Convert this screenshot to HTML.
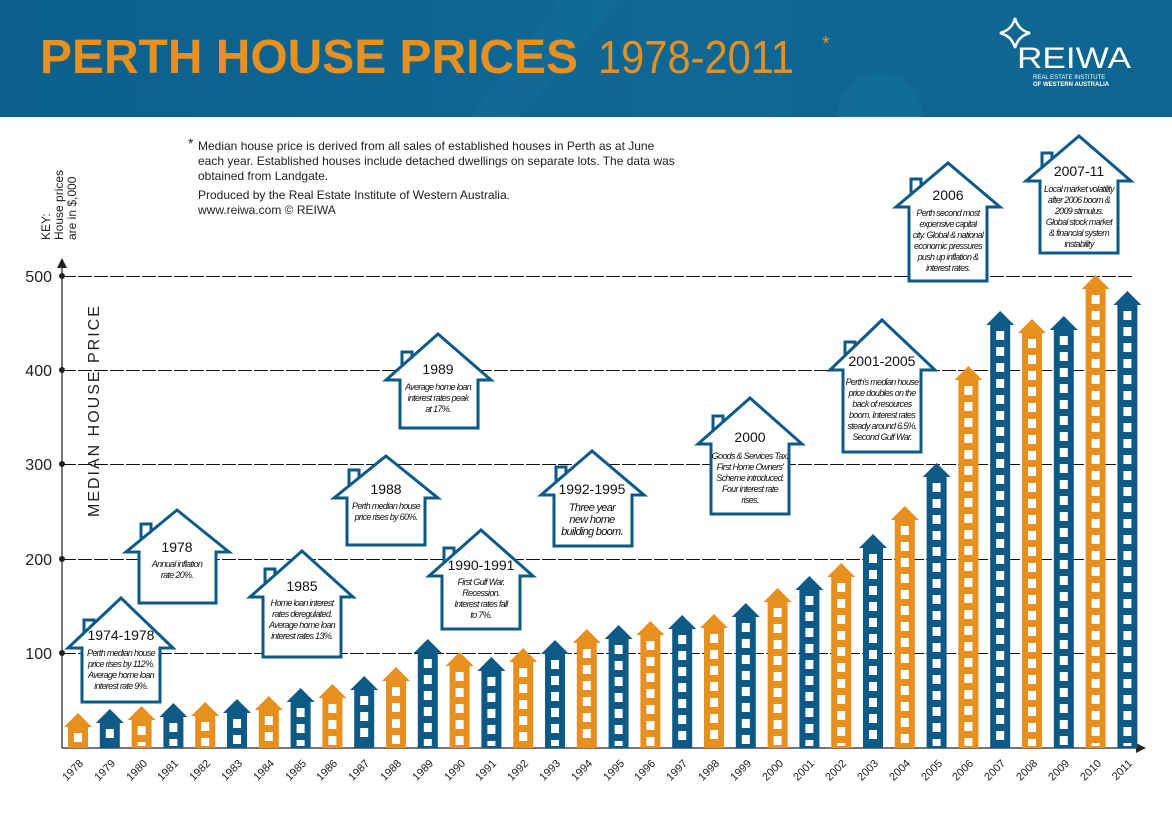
<!DOCTYPE html>
<html><head><meta charset="utf-8"><style>
html,body{margin:0;padding:0;background:#fff}
svg{display:block}
text{font-family:"Liberation Sans",sans-serif}
.d{font-size:9px;font-style:italic;letter-spacing:-0.7px;fill:#111}
.t{font-size:14px;fill:#111}
.yl{font-size:11px;fill:#222}
</style></head><body>
<svg id="s" width="1172" height="825" viewBox="0 0 1172 825" xmlns="http://www.w3.org/2000/svg">
<defs>
<linearGradient id="hg" x1="0" y1="0" x2="1" y2="0">
<stop offset="0" stop-color="#0c5f8c"/><stop offset="0.6" stop-color="#0f6894"/><stop offset="1" stop-color="#0d6591"/>
</linearGradient>
<clipPath id="hc"><rect x="0" y="0" width="1172" height="117"/></clipPath>
</defs>
<rect x="0" y="0" width="1172" height="117" fill="url(#hg)"/>
<g clip-path="url(#hc)">
<circle cx="880" cy="115" r="42" fill="#1a7aa3" opacity="0.25"/>
<polygon points="560,0 620,0 520,117 470,117" fill="#1877a0" opacity="0.25"/>
</g>
<text x="40" y="73" font-size="48" font-weight="bold" fill="#e8901f" textLength="538" lengthAdjust="spacingAndGlyphs">PERTH HOUSE PRICES</text>
<text x="598" y="73" font-size="46" fill="#e8901f" textLength="196" lengthAdjust="spacingAndGlyphs">1978-2011</text>
<text x="822" y="50" font-size="20" fill="#e8901f">*</text>
<path d="M1015,18 Q1018,30 1030,33 Q1018,36 1015,48 Q1012,36 1000,33 Q1012,30 1015,18Z" fill="none" stroke="#fff" stroke-width="2.5"/>
<text x="1017" y="68" font-size="30" fill="#fff" textLength="114" lengthAdjust="spacingAndGlyphs">REIWA</text>
<text x="1033" y="79" font-size="6" fill="#fff">REAL ESTATE INSTITUTE</text>
<text x="1033" y="86" font-size="6" font-weight="bold" fill="#fff">OF WESTERN AUSTRALIA</text>

<g font-size="12" fill="#222">
<text x="188" y="148" font-size="14">*</text>
<text x="198" y="150">Median house price is derived from all sales of established houses in Perth as at June</text>
<text x="198" y="165">each year. Established houses include detached dwellings on separate lots. The data was</text>
<text x="198" y="180">obtained from Landgate.</text>
<text x="198" y="199">Produced by the Real Estate Institute of Western Australia.</text>
<text x="198" y="214">www.reiwa.com     © REIWA</text>
</g>
<g font-size="12" fill="#222">
<text transform="translate(50,240) rotate(-90)">KEY:</text>
<text transform="translate(63,240) rotate(-90)">House prices</text>
<text transform="translate(76,240) rotate(-90)">are in $,000</text>
</g>
<text transform="translate(99,517) rotate(-90)" font-size="16" letter-spacing="2" fill="#222">MEDIAN HOUSE PRICE</text>

<g id="grid" stroke="#111" stroke-width="1" stroke-dasharray="14,2">
<line x1="62" y1="276.5" x2="1132" y2="276.5"/>
<line x1="62" y1="370.5" x2="1132" y2="370.5"/>
<line x1="62" y1="464.5" x2="1132" y2="464.5"/>
<line x1="62" y1="559.5" x2="1132" y2="559.5"/>
<line x1="62" y1="653.5" x2="1132" y2="653.5"/>
</g>
<line x1="62" y1="266" x2="62" y2="748" stroke="#222" stroke-width="1.2"/>
<polygon points="57,268 62,258 67,268" fill="#222"/>
<line x1="62" y1="748" x2="1138" y2="748" stroke="#222" stroke-width="1.2"/>
<polygon points="1136,743 1146,748 1136,753" fill="#222"/>
<g fill="#222"><circle cx="62" cy="276" r="3"/><circle cx="62" cy="370" r="3"/><circle cx="62" cy="464" r="3"/><circle cx="62" cy="559" r="3"/><circle cx="62" cy="653" r="3"/></g>
<g font-size="16" fill="#222" text-anchor="end">
<text x="52" y="282">500</text><text x="52" y="376">400</text><text x="52" y="470">300</text><text x="52" y="565">200</text><text x="52" y="659">100</text>
</g>
<g id="bars"></g>
<g id="houses"></g>

<g class="yl" text-anchor="end">
<text transform="translate(84,764) rotate(-45)">1978</text>
<text transform="translate(116,764) rotate(-45)">1979</text>
<text transform="translate(148,764) rotate(-45)">1980</text>
<text transform="translate(179,764) rotate(-45)">1981</text>
<text transform="translate(211,764) rotate(-45)">1982</text>
<text transform="translate(243,764) rotate(-45)">1983</text>
<text transform="translate(275,764) rotate(-45)">1984</text>
<text transform="translate(307,764) rotate(-45)">1985</text>
<text transform="translate(338,764) rotate(-45)">1986</text>
<text transform="translate(370,764) rotate(-45)">1987</text>
<text transform="translate(402,764) rotate(-45)">1988</text>
<text transform="translate(434,764) rotate(-45)">1989</text>
<text transform="translate(466,764) rotate(-45)">1990</text>
<text transform="translate(497,764) rotate(-45)">1991</text>
<text transform="translate(529,764) rotate(-45)">1992</text>
<text transform="translate(561,764) rotate(-45)">1993</text>
<text transform="translate(593,764) rotate(-45)">1994</text>
<text transform="translate(625,764) rotate(-45)">1995</text>
<text transform="translate(656,764) rotate(-45)">1996</text>
<text transform="translate(688,764) rotate(-45)">1997</text>
<text transform="translate(720,764) rotate(-45)">1998</text>
<text transform="translate(752,764) rotate(-45)">1999</text>
<text transform="translate(784,764) rotate(-45)">2000</text>
<text transform="translate(815,764) rotate(-45)">2001</text>
<text transform="translate(847,764) rotate(-45)">2002</text>
<text transform="translate(879,764) rotate(-45)">2003</text>
<text transform="translate(911,764) rotate(-45)">2004</text>
<text transform="translate(943,764) rotate(-45)">2005</text>
<text transform="translate(974,764) rotate(-45)">2006</text>
<text transform="translate(1006,764) rotate(-45)">2007</text>
<text transform="translate(1038,764) rotate(-45)">2008</text>
<text transform="translate(1070,764) rotate(-45)">2009</text>
<text transform="translate(1102,764) rotate(-45)">2010</text>
<text transform="translate(1133,764) rotate(-45)">2011</text>
</g>

<g id="htext" text-anchor="middle">
<text class="t" x="121" y="640">1974-1978</text>
<text class="d" x="121" y="656">Perth median house</text><text class="d" x="121" y="667">price rises by 112%.</text><text class="d" x="121" y="678">Average home loan</text><text class="d" x="121" y="689">interest rate 9%.</text>
<text class="t" x="177" y="552">1978</text>
<text class="d" x="177" y="567">Annual inflation</text><text class="d" x="177" y="578">rate 20%.</text>
<text class="t" x="302" y="591">1985</text>
<text class="d" x="302" y="606">Home loan interest</text><text class="d" x="302" y="617">rates deregulated.</text><text class="d" x="302" y="628">Average home loan</text><text class="d" x="302" y="639">interest rates 13%.</text>
<text class="t" x="386" y="494">1988</text>
<text class="d" x="386" y="509">Perth median house</text><text class="d" x="386" y="520">price rises by 60%.</text>
<text class="t" x="438" y="374">1989</text>
<text class="d" x="438" y="390">Average home loan</text><text class="d" x="438" y="401">interest rates peak</text><text class="d" x="438" y="412">at 17%.</text>
<text class="t" x="481" y="570">1990-1991</text>
<text class="d" x="481" y="585">First Gulf War.</text><text class="d" x="481" y="596">Recession.</text><text class="d" x="481" y="607">Interest rates fall</text><text class="d" x="481" y="618">to 7%.</text>
<text class="t" x="592" y="494">1992-1995</text>
<text class="d" x="592" y="511" style="font-size:11px">Three year</text><text class="d" x="592" y="523" style="font-size:11px">new home</text><text class="d" x="592" y="535" style="font-size:11px">building boom.</text>
<text class="t" x="750" y="442">2000</text>
<text class="d" x="750" y="459">Goods &amp; Services Tax.</text><text class="d" x="750" y="470">First Home Owners'</text><text class="d" x="750" y="481">Scheme introduced.</text><text class="d" x="750" y="492">Four interest rate</text><text class="d" x="750" y="503">rises.</text>
<text class="t" x="882" y="366">2001-2005</text>
<text class="d" x="882" y="385">Perth's median house</text><text class="d" x="882" y="396">price doubles on the</text><text class="d" x="882" y="407">back of resources</text><text class="d" x="882" y="418">boom. Interest rates</text><text class="d" x="882" y="429">steady around 6.5%.</text><text class="d" x="882" y="440">Second Gulf War.</text>
<text class="t" x="948" y="200">2006</text>
<text class="d" x="948" y="216">Perth second most</text><text class="d" x="948" y="227">expensive capital</text><text class="d" x="948" y="238">city. Global &amp; national</text><text class="d" x="948" y="249">economic pressures</text><text class="d" x="948" y="260">push up inflation &amp;</text><text class="d" x="948" y="271">interest rates.</text>
<text class="t" x="1079" y="176">2007-11</text>
<text class="d" x="1079" y="192">Local market volatility</text><text class="d" x="1079" y="203">after 2006 boom &amp;</text><text class="d" x="1079" y="214">2009 stimulus.</text><text class="d" x="1079" y="225">Global stock market</text><text class="d" x="1079" y="236">&amp; financial system</text><text class="d" x="1079" y="247">instability</text>
</g>
</svg>
<script>
var NS="http://www.w3.org/2000/svg";
function el(p,t,a){var e=document.createElementNS(NS,t);for(var k in a)e.setAttribute(k,a[k]);p.appendChild(e);return e;}
var tops=[713,709,706,703,702,699,696,688,684,676,667,639,652,657,648,640,629,625,621,615,614,603,588,576,563,534,506,463,366,311,319,316,275,291];
var bars=document.getElementById('bars');
for(var i=0;i<tops.length;i++){
 var c=78+i*31.8, t=tops[i], col=i%2?'#0d5a86':'#e8901f';
 el(bars,'polygon',{points:(c-14)+','+(t+14)+' '+c+','+t+' '+(c+14)+','+(t+14),fill:col});
 el(bars,'rect',{x:c-10,y:t+13,width:20,height:748-t-13,fill:col});
 for(var y=t+20;y<744;y+=16){el(bars,'rect',{x:c-4,y:y,width:8,height:Math.min(9,746-y),fill:'#fff'});}
}
var H=[[121,598,648,68,173,82,160,702],[177,510,552,126,229,139,216,603],[302,551,597,250,353,263,341,657],[386,456,498,334,438,347,425,545],[438,334,380,386,491,400,478,428],[481,530,576,429,533,442,520,629],[592,451,495,541,644,554,632,546],[750,398,444,698,802,711,789,514],[882,320,370,830,935,843,921,452],[948,163,207,896,1000,909,987,281],[1079,136,181,1026,1131,1040,1118,253]];
var hg=document.getElementById('houses');
H.forEach(function(h){
 var ax=h[0],ay=h[1],ey=h[2],tl=h[3],tr=h[4],bl=h[5],br=h[6],bt=h[7];
 el(hg,'rect',{x:bl+2,y:ey-28,width:10,height:28,fill:'#fff',stroke:'#0d5a86','stroke-width':3});
 el(hg,'polygon',{points:[bl+','+bt,bl+','+ey,tl+','+ey,ax+','+ay,tr+','+ey,br+','+ey,br+','+bt].join(' '),fill:'#fff',stroke:'#0d5a86','stroke-width':3,'stroke-linejoin':'miter'});
});
</script>
</body></html>
